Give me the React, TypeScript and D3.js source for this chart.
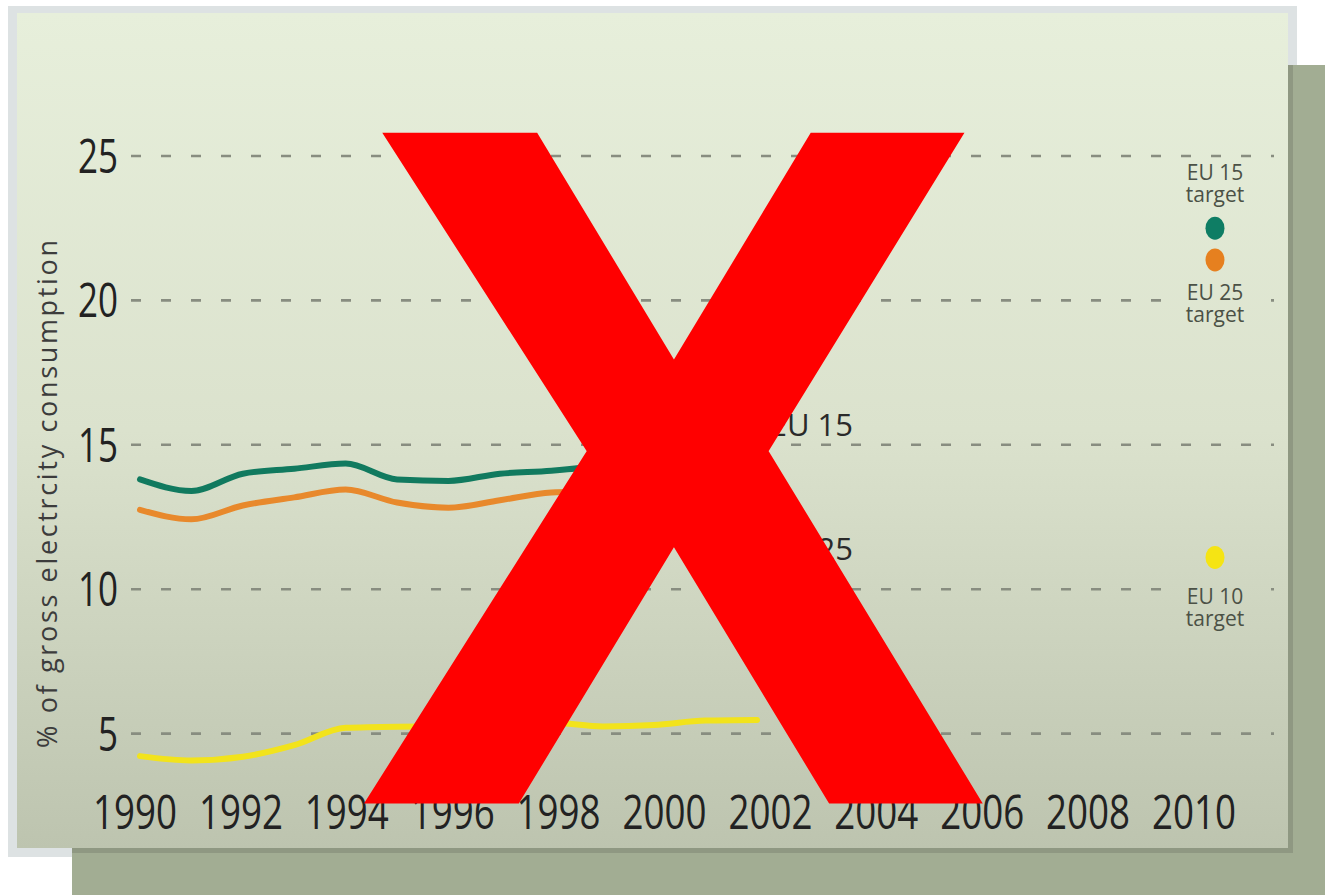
import React, { useEffect, useRef } from 'react';
import * as d3 from 'd3';

// yearly shares, % of gross electricity consumption
const years = [1990, 1991, 1992, 1993, 1994, 1995, 1996, 1997, 1998, 1999, 2000, 2001, 2002];
const eu15 = [13.8, 13.4, 14.0, 14.17, 14.35, 13.8, 13.75, 14.0, 14.1, 14.3, 14.7, 15.1, 14.2];
const eu25 = [12.75, 12.42, 12.9, 13.18, 13.45, 13.0, 12.82, 13.08, 13.35, 13.4, 13.8, 14.2, 13.3];
const eu10 = [4.22, 4.07, 4.2, 4.6, 5.2, 5.24, 5.25, 5.3, 5.38, 5.25, 5.3, 5.45, 5.47];

const seriesNames = ['EU 15', 'EU 25', 'EU 10'];
const seriesColors = ['#117a5f', '#e8892c', '#f2e31c'];

// 2010 targets
const targetValues = [22.5, 21.4, 11.1];
const targetColors = ['#0e7d64', '#e6801f', '#f5e414'];

const tickYears = [1990, 1992, 1994, 1996, 1998, 2000, 2002, 2004, 2006, 2008, 2010];
const yTicks = [5, 10, 15, 20, 25];

const sans = "'Open Sans', 'Noto Sans', sans-serif";

const App: React.FC = () => {
  const svgRef = useRef<SVGSVGElement | null>(null);

  useEffect(() => {
    const svg = d3.select(svgRef.current);
    const g = svg.select('g.chart');
    g.selectAll('*').remove();

    const x = d3.scaleLinear().domain([1990, 2002]).range([140, 757]);
    const xLabel = d3.scalePoint<number>().domain(tickYears).range([135, 1194]);
    const y = d3.scaleLinear().domain([0, 25]).range([878, 156]);

    // dashed grid
    g.append('g')
      .selectAll('line')
      .data(yTicks)
      .join('line')
      .attr('x1', 131)
      .attr('x2', 1274)
      .attr('y1', d => y(d))
      .attr('y2', d => y(d))
      .attr('stroke', '#888d80')
      .attr('stroke-width', 2.6)
      .attr('stroke-dasharray', '10 20');

    // target labels (panel coloured backing so the dashes break)
    const tx = (xLabel(2010) as number) + 21;
    const targetLabels = [
      { name: 'EU 15', v: targetValues[0], dy: -48, back: false },
      { name: 'EU 25', v: targetValues[1], dy: 40, back: true },
      { name: 'EU 10', v: targetValues[2], dy: 47, back: true },
    ];
    g.append('g')
      .selectAll('rect')
      .data(targetLabels.filter(d => d.back))
      .join('rect')
      .attr('x', tx - 36)
      .attr('y', d => y(d.v) + d.dy - 20)
      .attr('width', 72)
      .attr('height', 48)
      .attr('fill', 'url(#panelGradUser)');
    const tl = g.append('g').selectAll('g').data(targetLabels).join('g')
      .attr('transform', d => `translate(${tx},${y(d.v) + d.dy})`);
    tl.append('text')
      .attr('text-anchor', 'middle')
      .attr('font-family', sans)
      .attr('font-size', 21)
      .attr('fill', '#4b5146')
      .text(d => d.name);
    tl.append('text')
      .attr('text-anchor', 'middle')
      .attr('y', 22)
      .attr('font-family', sans)
      .attr('font-size', 21)
      .attr('fill', '#4b5146')
      .text('target');

    // lines
    const line = d3.line<number>()
      .x((d, i) => x(years[i]))
      .y(d => y(d))
      .curve(d3.curveMonotoneX);

    g.append('g')
      .selectAll('path')
      .data([eu15, eu25, eu10])
      .join('path')
      .attr('d', d => line(d))
      .attr('fill', 'none')
      .attr('stroke', (d, i) => seriesColors[i])
      .attr('stroke-width', 6)
      .attr('stroke-linecap', 'round')
      .attr('stroke-linejoin', 'round');

    // target dots
    g.append('g')
      .selectAll('ellipse')
      .data(targetValues)
      .join('ellipse')
      .attr('cx', tx)
      .attr('cy', d => y(d))
      .attr('rx', 9.5)
      .attr('ry', 11.5)
      .attr('fill', (d, i) => targetColors[i]);

    // series labels
    g.append('g')
      .selectAll('text')
      .data(seriesNames.slice(0, 2))
      .join('text')
      .attr('x', 853)
      .attr('y', (d, i) => (i === 0 ? 436 : 560))
      .attr('text-anchor', 'end')
      .attr('font-family', sans)
      .attr('font-size', 31)
      .attr('fill', '#2a2a2a')
      .text(d => d);

    // y tick labels (condensed digits)
    g.append('g')
      .selectAll('text')
      .data(yTicks)
      .join('text')
      .attr('x', 118)
      .attr('y', d => y(d) + 17)
      .attr('text-anchor', 'end')
      .attr('font-family', sans)
      .attr('font-size', 47)
      .attr('textLength', d => String(d).length * 20)
      .attr('lengthAdjust', 'spacingAndGlyphs')
      .attr('fill', '#222')
      .text(d => d);

    // x tick labels
    g.append('g')
      .selectAll('text')
      .data(tickYears)
      .join('text')
      .attr('x', d => xLabel(d) as number)
      .attr('y', 829)
      .attr('text-anchor', 'middle')
      .attr('font-family', sans)
      .attr('font-size', 47)
      .attr('textLength', 84)
      .attr('lengthAdjust', 'spacingAndGlyphs')
      .attr('fill', '#222')
      .text(d => d);

    // axis title
    g.append('text')
      .attr('transform', 'translate(57,494) rotate(-90)')
      .attr('text-anchor', 'middle')
      .attr('font-family', sans)
      .attr('font-size', 27)
      .attr('textLength', 508)
      .attr('lengthAdjust', 'spacing')
      .attr('fill', '#3c3c3c')
      .text('% of gross electrcity consumption');

    // big red cross over everything
    g.append('text')
      .attr('x', 673.5)
      .attr('y', 797)
      .attr('text-anchor', 'middle')
      .attr('font-family', "'Liberation Sans', Arial, sans-serif")
      .attr('font-weight', 'bold')
      .attr('font-size', 956)
      .attr('textLength', 612)
      .attr('lengthAdjust', 'spacingAndGlyphs')
      .attr('fill', '#ff0000')
      .attr('stroke', '#ff0000')
      .attr('stroke-width', 13)
      .text('X');

    return () => {
      g.selectAll('*').remove();
    };
  }, []);

  return (
    <svg ref={svgRef} width={1325} height={895}
      style={{ position: 'absolute', left: 0, top: 0, display: 'block' }}>
      <defs>
        <linearGradient id="panelGrad" x1="0" y1="0" x2="0" y2="1">
          <stop offset="0" stopColor="#e7efdb" />
          <stop offset="0.5" stopColor="#dbe2cd" />
          <stop offset="1" stopColor="#bdc4af" />
        </linearGradient>
        <linearGradient id="panelGradUser" gradientUnits="userSpaceOnUse" x1="0" y1="13" x2="0" y2="848">
          <stop offset="0" stopColor="#e7efdb" />
          <stop offset="0.5" stopColor="#dbe2cd" />
          <stop offset="1" stopColor="#bdc4af" />
        </linearGradient>
      </defs>
      <rect x={0} y={0} width={1325} height={895} fill="#ffffff" />
      <rect x={8} y={6} width={1289} height={851} fill="#dde2e3" />
      <rect x={72} y={65} width={1260} height={840} fill="#a2ad93" />
      <rect x={72} y={848} width={1218} height={5} fill="#8f9882" />
      <rect x={1288} y={65} width={5} height={788} fill="#8f9882" />
      <rect x={17} y={13} width={1271} height={835} fill="url(#panelGrad)" />
      <g className="chart"></g>
    </svg>
  );
};

export default App;
